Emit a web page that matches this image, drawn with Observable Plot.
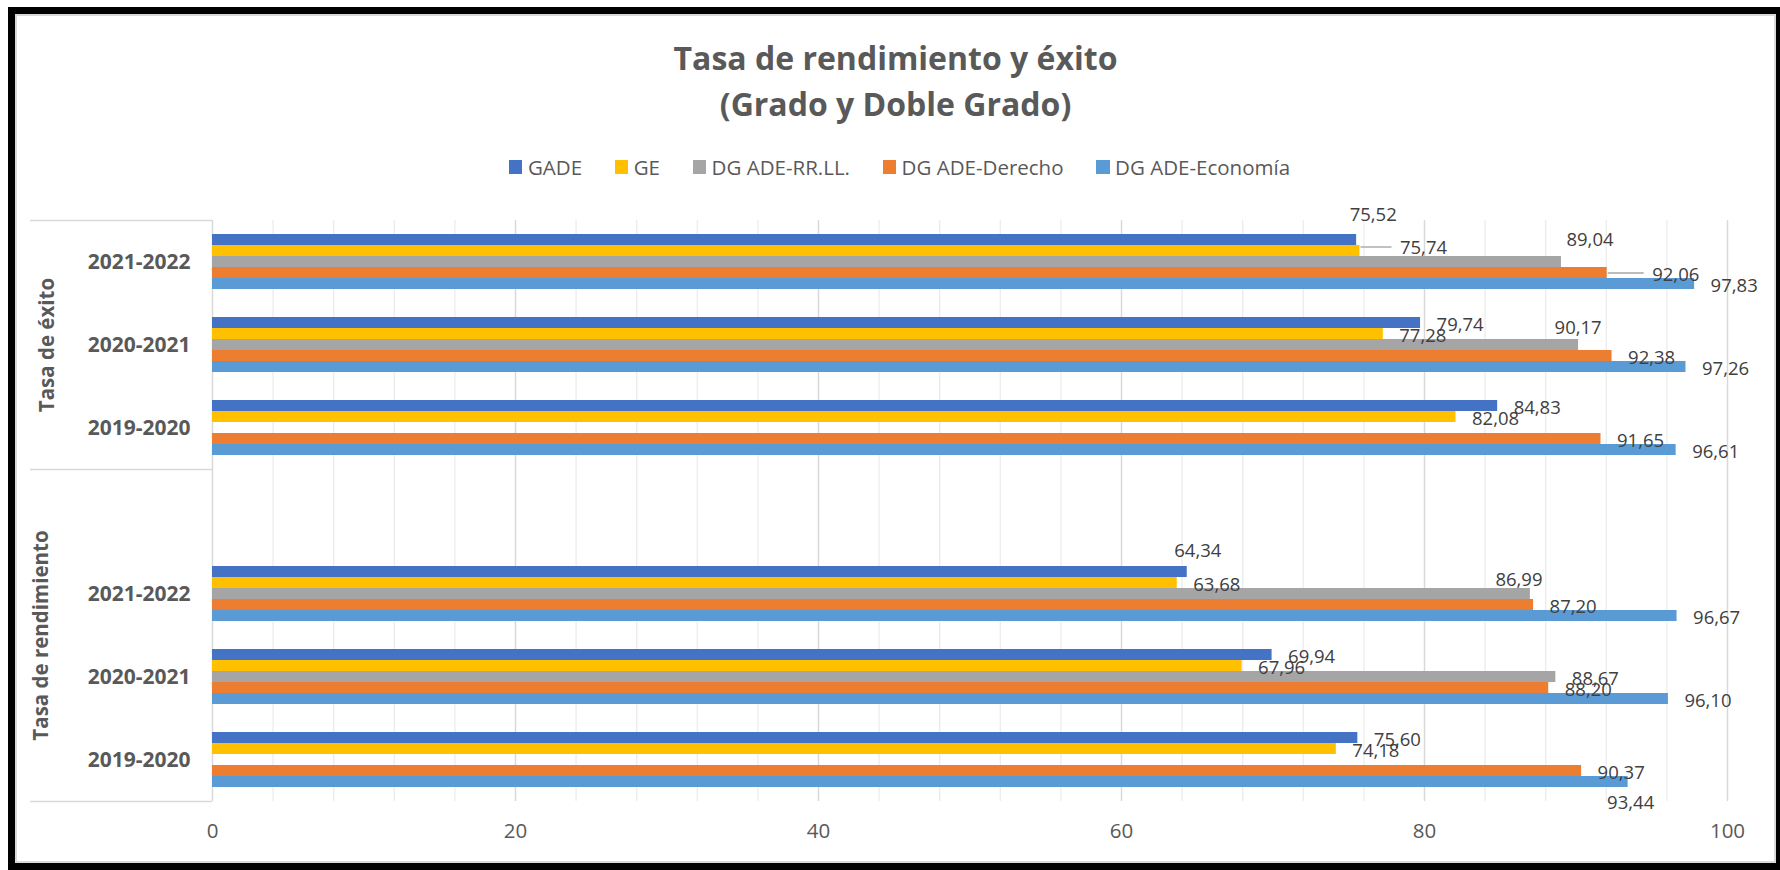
<!DOCTYPE html>
<html>
<head>
<meta charset="utf-8">
<script src="https://cdn.jsdelivr.net/npm/d3@7"></script>
<script src="https://cdn.jsdelivr.net/npm/@observablehq/plot@0.6"></script>
<style>
  html, body { margin: 0; padding: 0; background: #fff; width: 1780px; height: 870px; overflow: hidden; font-family: "Open Sans", sans-serif; }
  #outer { position: absolute; left: 8px; top: 7px; width: 1775px; height: 863px; box-sizing: border-box; border: 7px solid #000; }
  #inner { position: absolute; left: 0; top: 0; right: 0; bottom: 0; border: 2px solid #d9d9d9; background: #fff; }
  #title { position: absolute; left: 17px; width: 1757px; top: 34.6px; text-align: center; font-weight: 700; font-size: 32px; line-height: 46px; color: #595959; }
  #legend { position: absolute; left: 21px; width: 1757px; top: 153px; height: 28px; display: flex; justify-content: center; align-items: center; font-size: 20.5px; line-height: 28px; color: #595959; }
  .item { display: flex; align-items: center; margin: 0 16.3px; white-space: nowrap; }
  .sw { width: 13.5px; height: 13.5px; margin-right: 5.5px; flex: none; }
  #chart { position: absolute; left: 0; top: 190px; }
</style>
</head>
<body>
<div id="outer"><div id="inner"></div></div>
<div id="title">Tasa de rendimiento y éxito<br>(Grado y Doble Grado)</div>
<div id="legend"></div>
<div id="chart"></div>
<script>
// ---------------- DATA ----------------
const groups = ["Tasa de éxito", "Tasa de rendimiento"];
const years = ["2021-2022", "2020-2021", "2019-2020"];
const series = ["GADE", "GE", "DG ADE-RR.LL.", "DG ADE-Derecho", "DG ADE-Economía"];
const colors = ["#4472C4", "#FFC000", "#A5A5A5", "#ED7D31", "#5B9BD5"];
// values in order: éxito 21-22, 20-21, 19-20, rendimiento 21-22, 20-21, 19-20
const gade      = [75.52, 79.74, 84.83, 64.34, 69.94, 75.60];
const ge        = [75.74, 77.28, 82.08, 63.68, 67.96, 74.18];
const rrll      = [89.04, 90.17, null,  86.99, 88.67, null];
const derecho   = [92.06, 92.38, 91.65, 87.20, 88.20, 90.37];
const economia  = [97.83, 97.26, 96.61, 96.67, 96.10, 93.44];
const xTicks = [0, 20, 40, 60, 80, 100];
const minorTicks = d3.range(4, 100, 4).filter(v => v % 20 !== 0);

// manual label displacements (as dragged in the original), relative to default outside-end position
const labelNudges = [
  {group: "Tasa de éxito", year: "2021-2022", series: "GADE", dx: -23, dy: -27},
  {group: "Tasa de éxito", year: "2021-2022", series: "GE", dx: 24, dy: -5},
  {group: "Tasa de éxito", year: "2021-2022", series: "DG ADE-RR.LL.", dx: -11, dy: -24},
  {group: "Tasa de éxito", year: "2021-2022", series: "DG ADE-Derecho", dx: 29, dy: 0},
  {group: "Tasa de éxito", year: "2020-2021", series: "DG ADE-RR.LL.", dx: -40, dy: -19},
  {group: "Tasa de rendimiento", year: "2021-2022", series: "GADE", dx: -29, dy: -23},
  {group: "Tasa de rendimiento", year: "2021-2022", series: "DG ADE-RR.LL.", dx: -51, dy: -16},
  {group: "Tasa de rendimiento", year: "2019-2020", series: "DG ADE-Economía", dx: -37, dy: 19}
];
const leaders = [
  {group: "Tasa de éxito", year: "2021-2022", series: "GE", length: 32, dy: -4},
  {group: "Tasa de éxito", year: "2021-2022", series: "DG ADE-Derecho", length: 37, dy: 0}
];

// ---------------- TABLE ----------------
const seriesValues = [gade, ge, rrll, derecho, economia];
const slotKey = (g, y) => g + "|" + y;
const spacer = "·";
const fyDomain = [
  ...years.map(y => slotKey(groups[0], y)),
  spacer,
  ...years.map(y => slotKey(groups[1], y))
];
const rows = [];
groups.forEach((g, gi) => years.forEach((y, yi) => series.forEach((s, si) => {
  const v = seriesValues[si][gi * years.length + yi];
  if (v != null) rows.push({group: g, year: y, key: slotKey(g, y), series: s, value: v});
})));
const same = (a, b) => a.group === b.group && a.year === b.year && a.series === b.series;
const fmt = v => v.toFixed(2).replace(".", ",");

// ---------------- LEGEND ----------------
const legend = document.getElementById("legend");
series.forEach((s, i) => {
  const it = document.createElement("div");
  it.className = "item";
  it.innerHTML = `<span class="sw" style="background:${colors[i]}"></span><span>${s}</span>`;
  legend.appendChild(it);
});

// ---------------- PLOT ----------------
const W = 1780, H = 670, mT = 30, mB = 58.3, mL = 212, mR = 53;
const bw = (H - mT - mB) / fyDomain.length;
const labelBaseDx = 16, labelBaseDy = 2;
const lineColor = "#d9d9d9";

const defaultLabels = rows.filter(r => !labelNudges.some(n => same(n, r)));
const nudgedLabelMarks = labelNudges.map(n => Plot.text(rows.filter(r => same(n, r)), {
  fy: "key", y: "series", x: "value", text: d => fmt(d.value),
  textAnchor: "start", dx: labelBaseDx + n.dx, dy: labelBaseDy + n.dy,
  fontSize: 18.5, fill: "#404040"
}));
const leaderMarks = leaders.map(l => Plot.ruleY(rows.filter(r => same(l, r)), {
  fy: "key", y: "series", x1: "value", x2: "value",
  insetLeft: 1, insetRight: -l.length, dy: l.dy,
  stroke: "#A6A6A6", strokeWidth: 1.4
}));

const yearLabels = fyDomain.filter(k => k !== spacer).map(k => ({key: k, year: k.split("|")[1]}));
const boxTop = [{key: fyDomain[0]}, {key: spacer}];
const boxBottom = [{key: fyDomain[fyDomain.length - 1]}];

const chart = Plot.plot({
  width: W, height: H,
  marginLeft: mL, marginRight: mR, marginTop: mT, marginBottom: mB,
  style: {background: "transparent", fontFamily: "'Open Sans', sans-serif", fontSize: "20.5px", color: "#595959", overflow: "visible"},
  x: {domain: [0, 100], ticks: xTicks, tickSize: 0, tickPadding: 22, label: null},
  y: {domain: series, paddingInner: 0, paddingOuter: 1.04, align: 0.5, axis: null},
  fy: {domain: fyDomain, paddingInner: 0, paddingOuter: 0, axis: null, label: null},
  color: {domain: series, range: colors},
  marks: [
    Plot.ruleX(minorTicks, {stroke: "#ececec", strokeWidth: 1.3}),
    Plot.ruleX(xTicks.filter(v => v > 0), {stroke: lineColor, strokeWidth: 1.5}),
    Plot.ruleX([0], {stroke: lineColor, strokeWidth: 1.5}),
    // category box lines
    Plot.ruleY(boxTop, {fy: "key", y: null, dy: -bw / 2, insetLeft: -(mL - 30), insetRight: W - mL - mR, stroke: lineColor, strokeWidth: 1.5}),
    Plot.ruleY(boxBottom, {fy: "key", y: null, dy: bw / 2, insetLeft: -(mL - 30), insetRight: W - mL - mR, stroke: lineColor, strokeWidth: 1.5}),
    Plot.barX(rows, {fy: "key", y: "series", x: "value", fill: "series"}),
    ...leaderMarks,
    Plot.text(defaultLabels, {
      fy: "key", y: "series", x: "value", text: d => fmt(d.value),
      textAnchor: "start", dx: labelBaseDx, dy: labelBaseDy, fontSize: 18.5, fill: "#404040"
    }),
    ...nudgedLabelMarks,
    // year labels
    Plot.text(yearLabels, {fy: "key", text: "year", frameAnchor: "left", dx: -22, textAnchor: "end",
      fontSize: 21, fontWeight: "bold", fill: "#595959"}),
    // group labels
    Plot.text([{key: slotKey(groups[0], years[1]), label: groups[0]}], {fy: "key", text: "label", frameAnchor: "left",
      dx: -165, rotate: -90, textAnchor: "middle", fontSize: 20.5, fontWeight: "bold", fill: "#595959"}),
    Plot.text([{key: slotKey(groups[1], years[0]), label: groups[1]}], {fy: "key", text: "label", frameAnchor: "bottom-left",
      dx: -165, rotate: -90, textAnchor: "middle", fontSize: 20.5, fontWeight: "bold", fill: "#595959"})
  ]
});
document.getElementById("chart").appendChild(chart);
</script>
</body>
</html>
